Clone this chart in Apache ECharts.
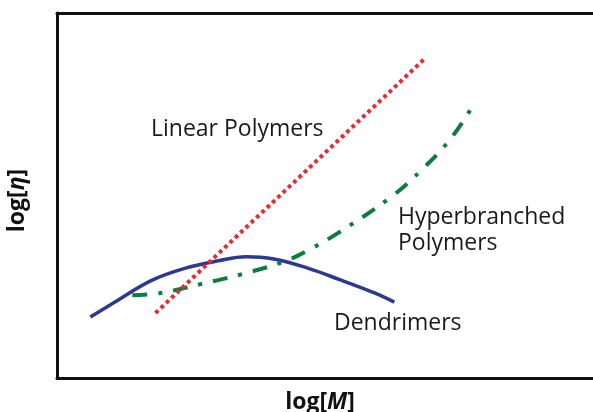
<!DOCTYPE html>
<html>
<head>
  <meta charset="utf-8">
  <title>log[η] vs log[M]</title>
  <script src="https://cdn.jsdelivr.net/npm/echarts@6/dist/echarts.min.js"></script>
  <style>
    html, body { margin: 0; padding: 0; background: #fff; }
    #main { width: 593px; height: 412px; }
  </style>
</head>
<body>
<div id="main"></div>
<script type="text/javascript">
// values, axes are arbitrary 0..100 units
var linearData = [[18.3, 17.8], [68.5, 87.7]];
var hyperData = [[14.0, 22.7], [19.2, 23.3], [26.9, 25.8], [34.5, 28.5], [42.0, 31.8],
  [46.8, 35.1], [52.2, 39.7], [62.1, 49.6], [68.1, 57.5], [73.3, 65.8], [77.6, 75.3]];
var dendData = [[6.2, 16.7], [11.4, 21.4], [17.7, 26.8], [23.9, 30.1], [30.0, 32.1],
  [35.1, 33.2], [40.3, 32.6], [46.6, 30.1], [52.8, 26.8], [59.0, 23.3], [62.7, 20.8]];

var font = '"Open Sans", "Noto Sans", sans-serif';
var chart = echarts.init(document.getElementById('main'));

var hideAxis = { show: false };
var nameRich = {
  b: { fontFamily: font, fontWeight: 'bold', fontSize: 23, color: '#111' },
  i: { fontFamily: font, fontWeight: 'bold', fontStyle: 'italic', fontSize: 23, color: '#111' }
};
var option = {
  animation: false,
  grid: { left: 57, top: 13, right: -2, bottom: 34, outerBoundsMode: 'none' },
  xAxis: [{
    type: 'value', min: 0, max: 100, position: 'bottom',
    axisLine: { show: true, lineStyle: { color: '#111', width: 3 } },
    axisTick: hideAxis, axisLabel: hideAxis, splitLine: hideAxis,
    name: '{b|log[}{i|M}{b|]}', nameLocation: 'middle', nameGap: 13,
    nameTextStyle: { rich: nameRich, padding: [0, 12, 0, 0] }
  }, {
    type: 'value', min: 0, max: 100, position: 'top',
    axisLine: { show: true, lineStyle: { color: '#111', width: 3 } },
    axisTick: hideAxis, axisLabel: hideAxis, splitLine: hideAxis
  }],
  yAxis: {
    type: 'value', min: 0, max: 100,
    axisLine: { show: true, lineStyle: { color: '#111', width: 3 } },
    axisTick: hideAxis, axisLabel: hideAxis, splitLine: hideAxis,
    name: '{b|log[}{i|η}{b|]}', nameLocation: 'middle', nameGap: 28, nameRotate: 90,
    nameTextStyle: { rich: nameRich, padding: [0, 10, 0, 0] }
  },
  series: [{
    name: 'Dendrimers', type: 'line', data: dendData, smooth: 0.4, symbol: 'none',
    lineStyle: { color: '#2b3894', width: 3.5 }
  }, {
    name: 'Hyperbranched Polymers', type: 'line', data: hyperData, smooth: 0.4, symbol: 'none',
    lineStyle: { color: '#0b7d3e', width: 4, type: [15, 11, 4, 11] }
  }, {
    name: 'Linear Polymers', type: 'line', data: linearData, symbol: 'none',
    lineStyle: { color: '#ec2830', width: 4, type: [3.8, 3.5] }
  }],
  graphic: [
    { type: 'text', left: 151, top: 118, style: { text: 'Linear Polymers', font: '23px ' + font, fill: '#1a1a1a' } },
    { type: 'text', left: 398, top: 204, style: { text: 'Hyperbranched\nPolymers', font: '23px ' + font, fill: '#1a1a1a', lineHeight: 26 } },
    { type: 'text', left: 334, top: 312, style: { text: 'Dendrimers', font: '23px ' + font, fill: '#1a1a1a' } }
  ]
};
chart.setOption(option);
</script>
</body>
</html>
